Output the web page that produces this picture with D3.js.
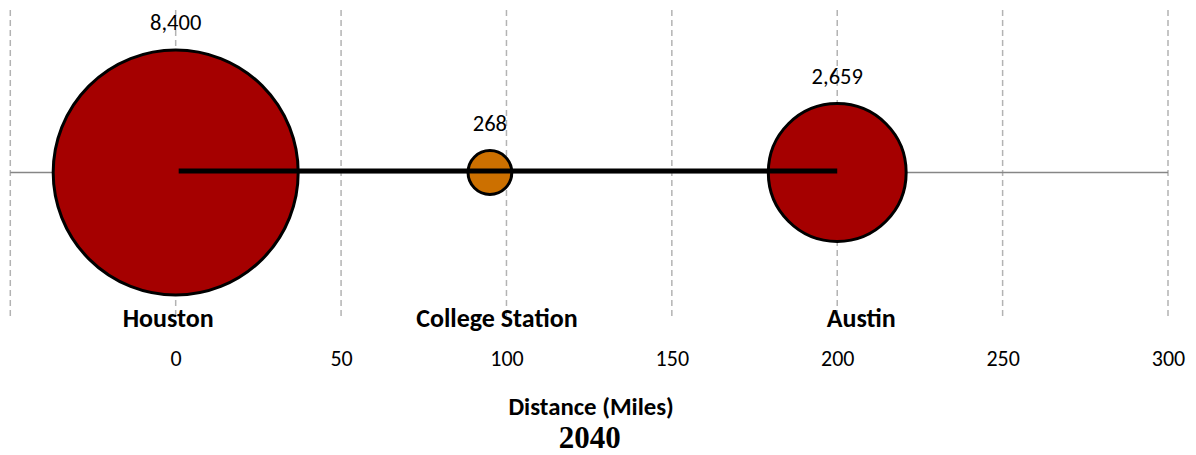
<!DOCTYPE html>
<html>
<head>
<meta charset="utf-8">
<script src="https://cdn.jsdelivr.net/npm/d3@7"></script>
<style>
  html, body { margin: 0; padding: 0; background: #fff; }
  svg { display: block; }
  text { font-family: Carlito, Calibri, Lato, sans-serif; }
</style>
</head>
<body>
<svg id="chart" width="1196" height="455"></svg>
<script>
// ---- data ----
const cities = ["Houston", "College Station", "Austin"];
const distances = [0, 95, 200];
const population = [8400, 268, 2659];
const bubbleColors = ["#A50000", "#CC7000", "#A50000"];
const tickValues = [0, 50, 100, 150, 200, 250, 300];
const gridValues = [-50, 0, 50, 100, 150, 200, 250, 300];
const routeFrom = 0, routeTo = 200;
const axisTitle = "Distance (Miles)";
const chartTitle = "2040";

// ---- layout ----
const svg = d3.select("#chart");
const x = d3.scaleLinear().domain([-50, 300]).range([10.3, 1168]);
const r = d3.scaleSqrt().domain([0, 8400]).range([0, 122.5]);
const yAxis = 172.5, gridTop = 10, gridBottom = 318;

// gridlines
svg.append("g").selectAll("line").data(gridValues).join("line")
  .attr("x1", d => x(d)).attr("x2", d => x(d))
  .attr("y1", gridTop).attr("y2", gridBottom)
  .attr("stroke", "#b3b3b3").attr("stroke-width", 1.5)
  .attr("stroke-dasharray", "6,4");

// horizontal axis line
svg.append("line")
  .attr("x1", x(-50)).attr("x2", x(300))
  .attr("y1", yAxis).attr("y2", yAxis)
  .attr("stroke", "#868686").attr("stroke-width", 1.5);

// bubbles
const data = cities.map((c, i) => ({ city: c, dist: distances[i], pop: population[i], color: bubbleColors[i] }));
svg.append("g").selectAll("circle").data(data).join("circle")
  .attr("cx", d => x(d.dist)).attr("cy", yAxis)
  .attr("r", d => r(d.pop))
  .attr("fill", d => d.color)
  .attr("stroke", "#000").attr("stroke-width", 3);

// route line
svg.append("line")
  .attr("x1", x(routeFrom) + 3).attr("x2", x(routeTo))
  .attr("y1", yAxis - 1.5).attr("y2", yAxis - 1.5)
  .attr("stroke", "#000").attr("stroke-width", 5);

// value labels
svg.append("g").selectAll("text").data(data).join("text")
  .attr("x", d => x(d.dist))
  .attr("y", d => yAxis - r(d.pop) - 20)
  .attr("text-anchor", "middle")
  .style("font-size", "22.5px").attr("fill", "#000")
  .text(d => d3.format(",")(d.pop));

// city labels
const nameShift = { "Houston": -7.5, "College Station": 7, "Austin": 24 };
svg.append("g").selectAll("text").data(data).join("text")
  .attr("x", d => x(d.dist) + nameShift[d.city])
  .attr("y", 326.5)
  .attr("text-anchor", "middle")
  .style("font-size", "26px").attr("font-weight", "bold").attr("fill", "#000")
  .text(d => d.city);

// x axis tick labels
const axis = d3.axisBottom(x).tickValues(tickValues).tickSize(0).tickPadding(0);
const gAxis = svg.append("g").attr("transform", "translate(0,352)").call(axis);
gAxis.attr("font-size", null).attr("font-family", null);
gAxis.select(".domain").remove();
gAxis.selectAll("text")
  .style("font-size", "22px").attr("fill", "#000")
  .attr("dy", null).attr("y", 14)
  .style("font-family", "Carlito, Calibri, Lato, sans-serif");

// axis title
svg.append("text")
  .attr("x", (x(-50) + x(300)) / 2 + 2).attr("y", 414.5)
  .attr("text-anchor", "middle")
  .style("font-size", "24.8px").attr("font-weight", "bold")
  .text(axisTitle);

// chart title
svg.append("text")
  .attr("x", (x(-50) + x(300)) / 2 + 0.5).attr("y", 448)
  .attr("text-anchor", "middle")
  .style("font-size", "31px").attr("font-weight", "bold")
  .style("font-family", "'Liberation Serif', 'Times New Roman', serif")
  .text(chartTitle);
</script>
</body>
</html>
